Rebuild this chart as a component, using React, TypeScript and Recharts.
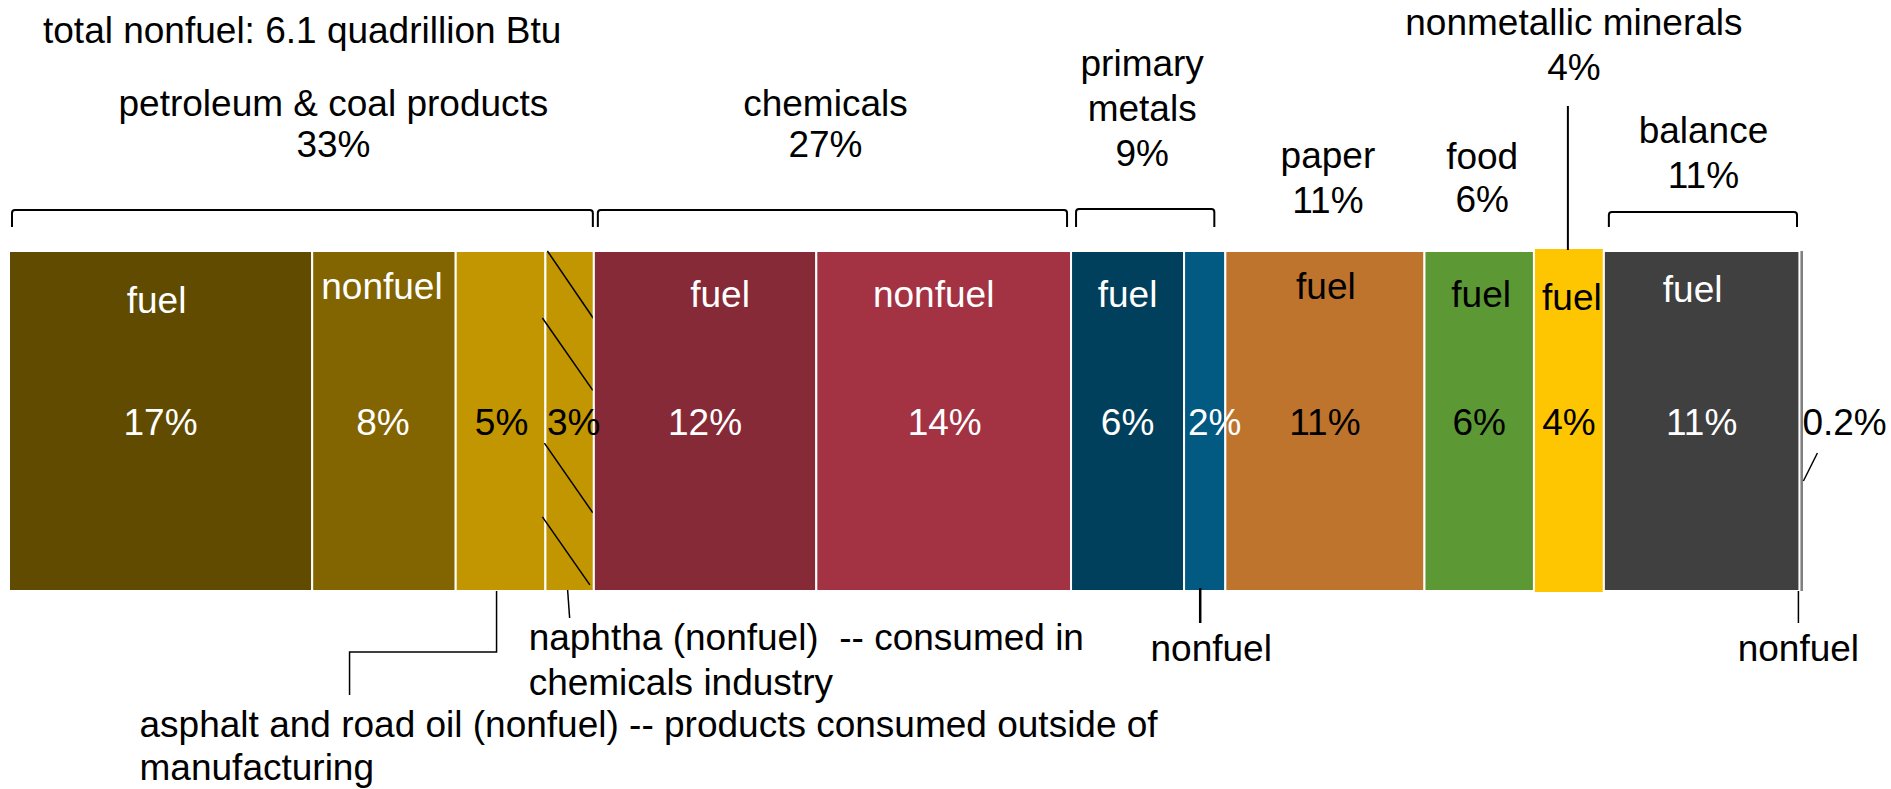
import { BarChart, Bar, XAxis, YAxis, ReferenceArea } from 'recharts';

// one stacked bar: share of industrial energy use, left to right
const segmentKeys = [
  'petroFuel', 'petroNonfuel', 'asphalt', 'naphtha',
  'chemFuel', 'chemNonfuel',
  'metalsFuel', 'metalsNonfuel',
  'paperFuel', 'foodFuel', 'mineralsFuel',
  'balanceFuel', 'balanceNonfuel',
];
const segmentShares = [16.9, 8.0, 5.0, 2.7, 12.4, 14.2, 6.3, 2.3, 11.1, 6.1, 3.9, 10.9, 0.2];
const segmentPctLabels = ['17%', '8%', '5%', '3%', '12%', '14%', '6%', '2%', '11%', '6%', '4%', '11%', '0.2%'];
const segmentKindLabels = ['fuel', 'nonfuel', '', '', 'fuel', 'nonfuel', 'fuel', '', 'fuel', 'fuel', 'fuel', 'fuel', ''];

const groupTitles = [
  ['petroleum & coal products'], ['chemicals'], ['primary', 'metals'],
  ['paper'], ['food'], ['nonmetallic minerals'], ['balance'],
];
const groupPctLabels = ['33%', '27%', '9%', '11%', '6%', '4%', '11%'];
const groupSizes = [4, 2, 2, 1, 1, 1, 2];

const headerText = 'total nonfuel: 6.1 quadrillion Btu';
const naphthaNote = ['naphtha (nonfuel)  -- consumed in', 'chemicals industry'];
const asphaltNote = ['asphalt and road oil (nonfuel) -- products consumed outside of', 'manufacturing'];
const nonfuelNote = 'nonfuel';

// styling
const colors = [
  '#614B00', '#826400', '#C29600', '#C29600',
  '#862A37', '#A33343',
  '#00405C', '#025981',
  '#BE742D', '#5C9834', '#FEC600',
  '#404040', '#808080',
];
const darkText = [true, true, false, false, true, true, true, true, false, false, false, true, false];
// [dx from segment centre, baseline below bar top]
const kindPos: number[][] = [
  [-4, 62], [-2, 48], [0, 0], [0, 0], [15, 56], [-10, 56], [0, 56], [0, 0],
  [1, 48], [2, 56], [3, 59], [-9, 51], [0, 0],
];
const pctDx = [0, -1, 1, 4, 0, 1, 0, 10, 0, 0, 0, 0, 0];
const groupLayout = [
  { dx: 32, top: -135, step: 41, bracket: [3, 1, -41] },
  { dx: -7, top: -135, step: 41, bracket: [4, 4, -41] },
  { dx: -6, top: -175, step: 45, bracket: [5, 11, -42] },
  { dx: 3, top: -83, step: 45, bracket: null },
  { dx: 3, top: -82, step: 43, bracket: null },
  { dx: 5, top: -216, step: 45, bracket: null },
  { dx: 0, top: -108, step: 45, bracket: [5, 6, -39] },
];

const FONT = '"Liberation Sans", Arial, sans-serif';
const FS = 37;

const row: Record<string, any> = { name: 'industry' };
segmentKeys.forEach((k, i) => { row[k] = segmentShares[i]; });
const data = [row];

const starts: number[] = [];
segmentShares.forEach((v, i) => starts.push(i === 0 ? 0 : starts[i - 1] + segmentShares[i - 1]));
const groupFirst: number[] = [];
groupSizes.forEach((n, i) => groupFirst.push(i === 0 ? 0 : groupFirst[i - 1] + groupSizes[i - 1]));

const txt = (x: number, y: number, s: string, fill = '#000', anchor: any = 'middle') => (
  <text x={x} y={y} textAnchor={anchor} fill={fill} fontSize={FS} fontFamily={FONT}
    style={{ whiteSpace: 'pre' }}>{s}</text>
);

const makeBarShape = (i: number) => (props: any) => {
  const { x, y, width, height, fill } = props;
  const key = segmentKeys[i];
  if (key === 'mineralsFuel') {
    return <rect x={x + 1} y={y - 2} width={width - 2} height={height + 3} fill={fill} />;
  }
  if (key === 'balanceNonfuel') {
    return <rect x={x + 1} y={y} width={Math.max(width - 1, 1)} height={height} fill={fill} />;
  }
  const hatch = key === 'naphtha'
    ? [[2, 0, 0, 0.2], [-3, 0.197, -1, 0.41], [-1, 0.565, -1, 0.77], [-3, 0.782, -4, 0.982]]
    : [];
  return (
    <g>
      <rect x={x} y={y} width={width} height={height} fill={fill} stroke="#fff" strokeWidth={2} />
      {hatch.map(([a, b, c, d], j) => (
        <line key={j} x1={x + a} y1={y + b * height} x2={x + width + c} y2={y + d * height}
          stroke="#000" strokeWidth={1.5} />
      ))}
    </g>
  );
};

const makeSegmentLabels = (i: number) => (props: any) => {
  const { x, y, width, height } = props;
  const cx = x + width / 2;
  const bottom = y + height;
  const fill = darkText[i] ? '#fff' : '#000';
  const key = segmentKeys[i];
  return (
    <g>
      {segmentKindLabels[i] && txt(cx + kindPos[i][0], y + kindPos[i][1], segmentKindLabels[i], fill)}
      {key === 'balanceNonfuel'
        ? txt(x + 3, y + 184, segmentPctLabels[i], '#000', 'start')
        : txt(cx + pctDx[i], y + 184, segmentPctLabels[i], fill)}
      {key === 'asphalt' && (
        <g>
          <polyline
            points={`${cx - 4},${bottom} ${cx - 4},${bottom + 61} ${cx - 151},${bottom + 61} ${cx - 151},${bottom + 104}`}
            fill="none" stroke="#000" strokeWidth={1.5} />
          {txt(cx - 361, bottom + 146, asphaltNote[0], '#000', 'start')}
          {txt(cx - 361, bottom + 189, asphaltNote[1], '#000', 'start')}
        </g>
      )}
      {key === 'naphtha' && (
        <g>
          <line x1={cx - 2} y1={bottom - 1} x2={cx} y2={bottom + 27} stroke="#000" strokeWidth={1.5} />
          {txt(cx - 41, bottom + 59, naphthaNote[0], '#000', 'start')}
          {txt(cx - 41, bottom + 104, naphthaNote[1], '#000', 'start')}
        </g>
      )}
      {key === 'metalsNonfuel' && (
        <g>
          <line x1={cx - 4.5} y1={bottom - 3} x2={cx - 4.5} y2={bottom + 32} stroke="#000" strokeWidth={2.5} />
          {txt(cx + 6.5, bottom + 70, nonfuelNote)}
        </g>
      )}
      {key === 'balanceNonfuel' && (
        <g>
          <line x1={x - 1} y1={bottom} x2={x - 1} y2={bottom + 32} stroke="#000" strokeWidth={1.5} />
          {txt(x - 1, bottom + 70, nonfuelNote)}
          <line x1={x + 18} y1={y + 202} x2={x + 4} y2={y + 230} stroke="#000" strokeWidth={1.5} />
        </g>
      )}
    </g>
  );
};

const makeGroupLabels = (g: number) => (props: any) => {
  const { x, y, width } = props;
  const L = groupLayout[g];
  const cx = x + width / 2 + L.dx;
  const lines = [...groupTitles[g], groupPctLabels[g]];
  let bracket = null;
  if (L.bracket) {
    const [il, ir, top] = L.bracket;
    const x1 = x + il;
    const x2 = x + width - ir;
    const t = y + top;
    const b = y - 24;
    bracket = (
      <path d={`M${x1},${b} L${x1},${t + 3} Q${x1},${t} ${x1 + 3},${t} L${x2 - 3},${t} Q${x2},${t} ${x2},${t + 3} L${x2},${b}`}
        fill="none" stroke="#000" strokeWidth={2} />
    );
  }
  return (
    <g>
      {lines.map((s, j) => (
        <g key={j}>{txt(cx, y + L.top + j * L.step, s)}</g>
      ))}
      {bracket}
      {groupTitles[g][0] === 'nonmetallic minerals' && (
        <line x1={x + width / 2 - 1} y1={y - 145} x2={x + width / 2 - 1} y2={y - 1} stroke="#000" strokeWidth={2} />
      )}
    </g>
  );
};

export default function App() {
  return (
    <div style={{ position: 'absolute', left: 0, top: 0, background: '#fff' }}>
      <BarChart
        width={1891}
        height={789}
        data={data}
        layout="vertical"
        barCategoryGap={0}
        margin={{ top: 251, right: 88, bottom: 198, left: 9 }}
      >
        <XAxis type="number" domain={[0, 100]} hide />
        <YAxis type="category" dataKey="name" hide />
        {segmentKeys.map((k, i) => (
          <Bar key={k} dataKey={k} stackId="total" fill={colors[i]} shape={makeBarShape(i)} isAnimationActive={false} />
        ))}
        <ReferenceArea
          x1={0}
          x2={100}
          ifOverflow="visible"
          zIndex={2500}
          shape={(p: any) => txt(p.x + 34, p.y - 208, headerText, '#000', 'start')}
        />
        {groupSizes.map((n, g) => {
          const first = groupFirst[g];
          const last = first + n - 1;
          return (
            <ReferenceArea
              key={`g${g}`}
              x1={starts[first]}
              x2={starts[last] + segmentShares[last]}
              ifOverflow="visible"
              zIndex={2500}
              shape={makeGroupLabels(g)}
            />
          );
        })}
        {segmentKeys.map((k, i) => (
          <ReferenceArea
            key={`s${k}`}
            x1={starts[i]}
            x2={starts[i] + segmentShares[i]}
            ifOverflow="visible"
            zIndex={2500}
            shape={makeSegmentLabels(i)}
          />
        ))}
      </BarChart>
    </div>
  );
}
